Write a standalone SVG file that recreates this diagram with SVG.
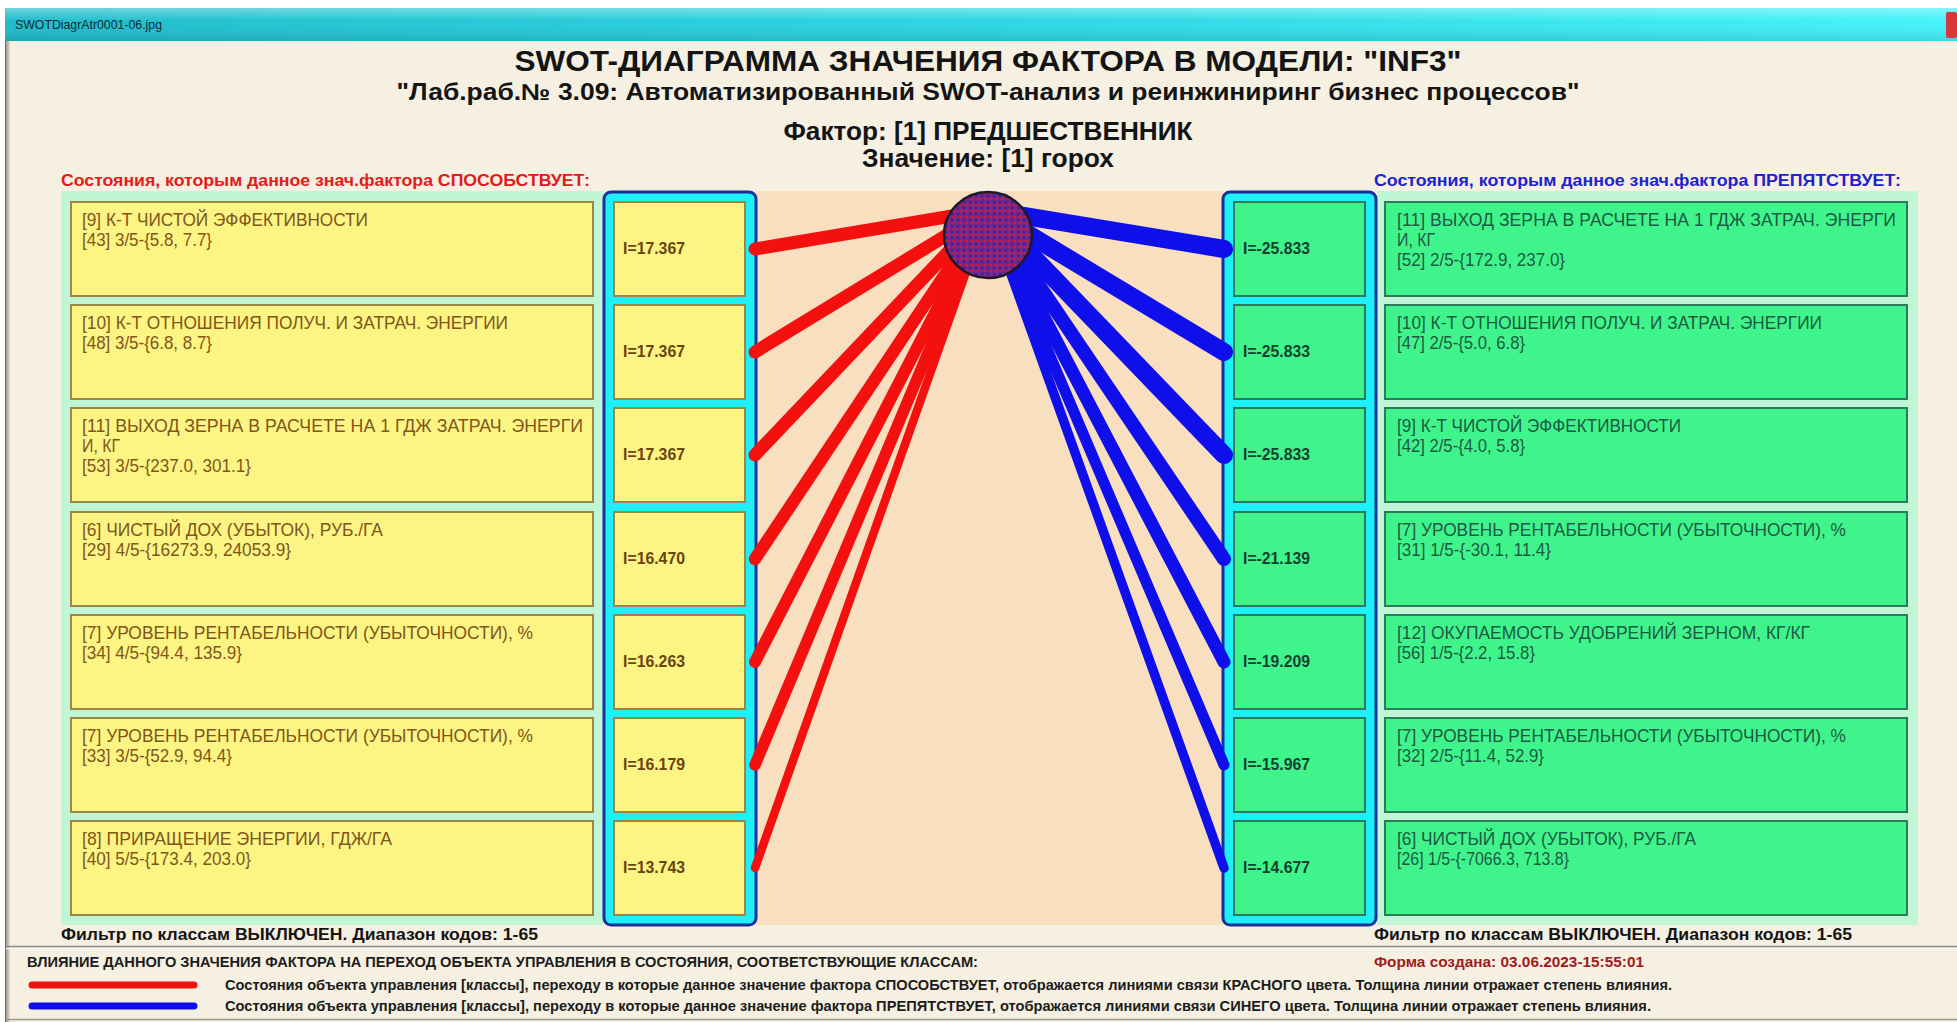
<svg xmlns="http://www.w3.org/2000/svg" width="1957" height="1022" viewBox="0 0 1957 1022">
  <defs>
    <linearGradient id="titleBar" x1="0" y1="0" x2="1" y2="0">
      <stop offset="0" stop-color="#1fbccb"/>
      <stop offset="0.5" stop-color="#2bd6e2"/>
      <stop offset="1" stop-color="#45f2fa"/>
    </linearGradient>
    <linearGradient id="titleShade" x1="0" y1="0" x2="0" y2="1">
      <stop offset="0" stop-color="#ffffff" stop-opacity="0.35"/>
      <stop offset="0.4" stop-color="#ffffff" stop-opacity="0"/>
      <stop offset="1" stop-color="#000000" stop-opacity="0.12"/>
    </linearGradient>
    <linearGradient id="frameShade" x1="0" y1="0" x2="1" y2="0">
      <stop offset="0" stop-color="#8a8a86"/>
      <stop offset="1" stop-color="#e6e1d2"/>
    </linearGradient>
    <pattern id="speckle" width="6" height="6" patternUnits="userSpaceOnUse">
      <rect width="6" height="6" fill="#72288a"/>
      <rect x="0" y="0" width="2" height="2" fill="#d01c3e"/>
      <rect x="3" y="3" width="2" height="2" fill="#2c1cb4"/>
      <rect x="4" y="0" width="1" height="2" fill="#b0245a"/>
      <rect x="1" y="4" width="2" height="1" fill="#a0246a"/>
    </pattern>
    <style>
      .ui { font-family: "Liberation Sans", Arial, sans-serif; }
      .head { font-weight: bold; fill: #141414; }
      .box-y { fill: #fcf483; stroke: #9c8646; stroke-width: 2; }
      .box-g { fill: #3ff58b; stroke: #2a7c5c; stroke-width: 2; }
      .lbl-y { font-size: 19px; fill: #80561a; }
      .lbl-g { font-size: 19px; fill: #1d5a44; }
      .ival { font-size: 16px; font-weight: bold; }
      .ival-y { fill: #6a4410; }
      .ival-g { fill: #153f30; }
      .col { fill: #1ef0f8; stroke: #17309a; stroke-width: 3; }
      .mint { fill: #c0f5d6; }
      .pro { stroke: #f51010; stroke-linecap: round; fill: none; }
      .con { stroke: #0f0fec; stroke-linecap: round; fill: none; }
      .foot { font-size: 16px; font-weight: bold; }
    </style>
  </defs>

  <!-- page and window frame -->
  <rect width="1957" height="1022" fill="#ffffff"/>
  <rect x="5" y="8" width="1952" height="1014" fill="#f5f0e1"/>
  <rect x="5" y="40" width="5" height="982" fill="url(#frameShade)"/>
  <line x1="5.5" y1="8" x2="5.5" y2="1022" stroke="#6f6f6c" stroke-width="1"/>

  <!-- title bar -->
  <rect x="5" y="8" width="1952" height="33" fill="url(#titleBar)"/>
  <rect x="5" y="8" width="1952" height="33" fill="url(#titleShade)"/>
  <rect x="1946" y="12" width="11" height="26" rx="2" fill="#d8383a"/>
  <text class="ui" x="15" y="29" font-size="12" fill="#0f2a34" textLength="147" lengthAdjust="spacingAndGlyphs">SWOTDiagrAtr0001-06.jpg</text>

  <!-- headings -->
  <text class="ui head" x="988" y="71" font-size="30" text-anchor="middle" textLength="947" lengthAdjust="spacingAndGlyphs">SWOT-ДИАГРАММА ЗНАЧЕНИЯ ФАКТОРА В МОДЕЛИ: "INF3"</text>
  <text class="ui head" x="988" y="100" font-size="23" text-anchor="middle" textLength="1183" lengthAdjust="spacingAndGlyphs">"Лаб.раб.№ 3.09: Автоматизированный SWOT-анализ и реинжиниринг бизнес процессов"</text>
  <text class="ui head" x="988" y="140" font-size="25" text-anchor="middle" textLength="409" lengthAdjust="spacingAndGlyphs">Фактор: [1] ПРЕДШЕСТВЕННИК</text>
  <text class="ui head" x="988" y="167" font-size="25" text-anchor="middle" textLength="252" lengthAdjust="spacingAndGlyphs">Значение: [1] горох</text>
  <text class="ui" x="61" y="186" font-size="16" font-weight="bold" fill="#e01c1c" textLength="529" lengthAdjust="spacingAndGlyphs">Состояния, которым данное знач.фактора СПОСОБСТВУЕТ:</text>
  <text class="ui" x="1374" y="186" font-size="16" font-weight="bold" fill="#2222cc" textLength="527" lengthAdjust="spacingAndGlyphs">Состояния, которым данное знач.фактора ПРЕПЯТСТВУЕТ:</text>

  <!-- panels -->
  <rect class="mint" x="61" y="191" width="542" height="734"/>
  <rect class="mint" x="1377" y="191" width="541" height="734"/>
  <rect x="756" y="191" width="467" height="734" fill="#f8dfc0"/>
  <rect class="col" x="604" y="192" width="152" height="733" rx="7"/>
  <rect class="col" x="1223" y="192" width="153" height="733" rx="7"/>

  <!-- connectors: all links meet at the factor node -->
  <g id="connectors">
    <line class="pro" x1="755" y1="249" x2="988" y2="210" stroke-width="13"/>
    <line class="pro" x1="755" y1="352" x2="988" y2="210" stroke-width="13"/>
    <line class="pro" x1="755" y1="455" x2="988" y2="210" stroke-width="13"/>
    <line class="pro" x1="755" y1="559" x2="988" y2="210" stroke-width="12.5"/>
    <line class="pro" x1="755" y1="662" x2="988" y2="210" stroke-width="12"/>
    <line class="pro" x1="755" y1="765" x2="988" y2="210" stroke-width="11.5"/>
    <line class="pro" x1="755" y1="868" x2="988" y2="210" stroke-width="8.5"/>
    <line class="con" x1="1224" y1="249" x2="988" y2="210" stroke-width="18"/>
    <line class="con" x1="1224" y1="352" x2="988" y2="210" stroke-width="18"/>
    <line class="con" x1="1224" y1="455" x2="988" y2="210" stroke-width="18"/>
    <line class="con" x1="1224" y1="559" x2="988" y2="210" stroke-width="14"/>
    <line class="con" x1="1224" y1="662" x2="988" y2="210" stroke-width="13"/>
    <line class="con" x1="1224" y1="765" x2="988" y2="210" stroke-width="11"/>
    <line class="con" x1="1224" y1="868" x2="988" y2="210" stroke-width="9.5"/>
  </g>

  <!-- factor value -->
  <g id="factor">
    <ellipse cx="988" cy="235" rx="44" ry="43" fill="url(#speckle)" stroke="#1a1a2a" stroke-width="2.5"/>
  </g>

  <!-- promoted states -->
  <g id="pro-1">
    <rect class="box-y" x="71" y="202" width="522" height="94"/>
    <text class="ui lbl-y" x="82" y="226" textLength="286" lengthAdjust="spacingAndGlyphs">[9] К-Т ЧИСТОЙ ЭФФЕКТИВНОСТИ</text>
    <text class="ui lbl-y" x="82" y="246" textLength="130" lengthAdjust="spacingAndGlyphs">[43] 3/5-{5.8, 7.7}</text>
    <rect class="box-y" x="614" y="202" width="131" height="94"/>
    <text class="ui ival ival-y" x="623" y="254" textLength="62" lengthAdjust="spacingAndGlyphs">I=17.367</text>
  </g>
  <g id="pro-2">
    <rect class="box-y" x="71" y="305" width="522" height="94"/>
    <text class="ui lbl-y" x="82" y="329" textLength="426" lengthAdjust="spacingAndGlyphs">[10] К-Т ОТНОШЕНИЯ ПОЛУЧ. И ЗАТРАЧ. ЭНЕРГИИ</text>
    <text class="ui lbl-y" x="82" y="349" textLength="130" lengthAdjust="spacingAndGlyphs">[48] 3/5-{6.8, 8.7}</text>
    <rect class="box-y" x="614" y="305" width="131" height="94"/>
    <text class="ui ival ival-y" x="623" y="357" textLength="62" lengthAdjust="spacingAndGlyphs">I=17.367</text>
  </g>
  <g id="pro-3">
    <rect class="box-y" x="71" y="408" width="522" height="94"/>
    <text class="ui lbl-y" x="82" y="432" textLength="501" lengthAdjust="spacingAndGlyphs">[11] ВЫХОД ЗЕРНА В РАСЧЕТЕ НА 1 ГДЖ ЗАТРАЧ. ЭНЕРГИ</text>
    <text class="ui lbl-y" x="82" y="452" textLength="38" lengthAdjust="spacingAndGlyphs">И, КГ</text>
    <text class="ui lbl-y" x="82" y="472" textLength="169" lengthAdjust="spacingAndGlyphs">[53] 3/5-{237.0, 301.1}</text>
    <rect class="box-y" x="614" y="408" width="131" height="94"/>
    <text class="ui ival ival-y" x="623" y="460" textLength="62" lengthAdjust="spacingAndGlyphs">I=17.367</text>
  </g>
  <g id="pro-4">
    <rect class="box-y" x="71" y="512" width="522" height="94"/>
    <text class="ui lbl-y" x="82" y="536" textLength="301" lengthAdjust="spacingAndGlyphs">[6] ЧИСТЫЙ ДОХ (УБЫТОК), РУБ./ГА</text>
    <text class="ui lbl-y" x="82" y="556" textLength="209" lengthAdjust="spacingAndGlyphs">[29] 4/5-{16273.9, 24053.9}</text>
    <rect class="box-y" x="614" y="512" width="131" height="94"/>
    <text class="ui ival ival-y" x="623" y="564" textLength="62" lengthAdjust="spacingAndGlyphs">I=16.470</text>
  </g>
  <g id="pro-5">
    <rect class="box-y" x="71" y="615" width="522" height="94"/>
    <text class="ui lbl-y" x="82" y="639" textLength="451" lengthAdjust="spacingAndGlyphs">[7] УРОВЕНЬ РЕНТАБЕЛЬНОСТИ (УБЫТОЧНОСТИ), %</text>
    <text class="ui lbl-y" x="82" y="659" textLength="160" lengthAdjust="spacingAndGlyphs">[34] 4/5-{94.4, 135.9}</text>
    <rect class="box-y" x="614" y="615" width="131" height="94"/>
    <text class="ui ival ival-y" x="623" y="667" textLength="62" lengthAdjust="spacingAndGlyphs">I=16.263</text>
  </g>
  <g id="pro-6">
    <rect class="box-y" x="71" y="718" width="522" height="94"/>
    <text class="ui lbl-y" x="82" y="742" textLength="451" lengthAdjust="spacingAndGlyphs">[7] УРОВЕНЬ РЕНТАБЕЛЬНОСТИ (УБЫТОЧНОСТИ), %</text>
    <text class="ui lbl-y" x="82" y="762" textLength="150" lengthAdjust="spacingAndGlyphs">[33] 3/5-{52.9, 94.4}</text>
    <rect class="box-y" x="614" y="718" width="131" height="94"/>
    <text class="ui ival ival-y" x="623" y="770" textLength="62" lengthAdjust="spacingAndGlyphs">I=16.179</text>
  </g>
  <g id="pro-7">
    <rect class="box-y" x="71" y="821" width="522" height="94"/>
    <text class="ui lbl-y" x="82" y="845" textLength="310" lengthAdjust="spacingAndGlyphs">[8] ПРИРАЩЕНИЕ ЭНЕРГИИ, ГДЖ/ГА</text>
    <text class="ui lbl-y" x="82" y="865" textLength="169" lengthAdjust="spacingAndGlyphs">[40] 5/5-{173.4, 203.0}</text>
    <rect class="box-y" x="614" y="821" width="131" height="94"/>
    <text class="ui ival ival-y" x="623" y="873" textLength="62" lengthAdjust="spacingAndGlyphs">I=13.743</text>
  </g>

  <!-- hindered states -->
  <g id="con-1">
    <rect class="box-g" x="1234" y="202" width="131" height="94"/>
    <text class="ui ival ival-g" x="1243" y="254" textLength="67" lengthAdjust="spacingAndGlyphs">I=-25.833</text>
    <rect class="box-g" x="1385" y="202" width="522" height="94"/>
    <text class="ui lbl-g" x="1397" y="226" textLength="499" lengthAdjust="spacingAndGlyphs">[11] ВЫХОД ЗЕРНА В РАСЧЕТЕ НА 1 ГДЖ ЗАТРАЧ. ЭНЕРГИ</text>
    <text class="ui lbl-g" x="1397" y="246" textLength="38" lengthAdjust="spacingAndGlyphs">И, КГ</text>
    <text class="ui lbl-g" x="1397" y="266" textLength="168" lengthAdjust="spacingAndGlyphs">[52] 2/5-{172.9, 237.0}</text>
  </g>
  <g id="con-2">
    <rect class="box-g" x="1234" y="305" width="131" height="94"/>
    <text class="ui ival ival-g" x="1243" y="357" textLength="67" lengthAdjust="spacingAndGlyphs">I=-25.833</text>
    <rect class="box-g" x="1385" y="305" width="522" height="94"/>
    <text class="ui lbl-g" x="1397" y="329" textLength="425" lengthAdjust="spacingAndGlyphs">[10] К-Т ОТНОШЕНИЯ ПОЛУЧ. И ЗАТРАЧ. ЭНЕРГИИ</text>
    <text class="ui lbl-g" x="1397" y="349" textLength="128" lengthAdjust="spacingAndGlyphs">[47] 2/5-{5.0, 6.8}</text>
  </g>
  <g id="con-3">
    <rect class="box-g" x="1234" y="408" width="131" height="94"/>
    <text class="ui ival ival-g" x="1243" y="460" textLength="67" lengthAdjust="spacingAndGlyphs">I=-25.833</text>
    <rect class="box-g" x="1385" y="408" width="522" height="94"/>
    <text class="ui lbl-g" x="1397" y="432" textLength="284" lengthAdjust="spacingAndGlyphs">[9] К-Т ЧИСТОЙ ЭФФЕКТИВНОСТИ</text>
    <text class="ui lbl-g" x="1397" y="452" textLength="128" lengthAdjust="spacingAndGlyphs">[42] 2/5-{4.0, 5.8}</text>
  </g>
  <g id="con-4">
    <rect class="box-g" x="1234" y="512" width="131" height="94"/>
    <text class="ui ival ival-g" x="1243" y="564" textLength="67" lengthAdjust="spacingAndGlyphs">I=-21.139</text>
    <rect class="box-g" x="1385" y="512" width="522" height="94"/>
    <text class="ui lbl-g" x="1397" y="536" textLength="449" lengthAdjust="spacingAndGlyphs">[7] УРОВЕНЬ РЕНТАБЕЛЬНОСТИ (УБЫТОЧНОСТИ), %</text>
    <text class="ui lbl-g" x="1397" y="556" textLength="154" lengthAdjust="spacingAndGlyphs">[31] 1/5-{-30.1, 11.4}</text>
  </g>
  <g id="con-5">
    <rect class="box-g" x="1234" y="615" width="131" height="94"/>
    <text class="ui ival ival-g" x="1243" y="667" textLength="67" lengthAdjust="spacingAndGlyphs">I=-19.209</text>
    <rect class="box-g" x="1385" y="615" width="522" height="94"/>
    <text class="ui lbl-g" x="1397" y="639" textLength="413" lengthAdjust="spacingAndGlyphs">[12] ОКУПАЕМОСТЬ УДОБРЕНИЙ ЗЕРНОМ, КГ/КГ</text>
    <text class="ui lbl-g" x="1397" y="659" textLength="138" lengthAdjust="spacingAndGlyphs">[56] 1/5-{2.2, 15.8}</text>
  </g>
  <g id="con-6">
    <rect class="box-g" x="1234" y="718" width="131" height="94"/>
    <text class="ui ival ival-g" x="1243" y="770" textLength="67" lengthAdjust="spacingAndGlyphs">I=-15.967</text>
    <rect class="box-g" x="1385" y="718" width="522" height="94"/>
    <text class="ui lbl-g" x="1397" y="742" textLength="449" lengthAdjust="spacingAndGlyphs">[7] УРОВЕНЬ РЕНТАБЕЛЬНОСТИ (УБЫТОЧНОСТИ), %</text>
    <text class="ui lbl-g" x="1397" y="762" textLength="147" lengthAdjust="spacingAndGlyphs">[32] 2/5-{11.4, 52.9}</text>
  </g>
  <g id="con-7">
    <rect class="box-g" x="1234" y="821" width="131" height="94"/>
    <text class="ui ival ival-g" x="1243" y="873" textLength="67" lengthAdjust="spacingAndGlyphs">I=-14.677</text>
    <rect class="box-g" x="1385" y="821" width="522" height="94"/>
    <text class="ui lbl-g" x="1397" y="845" textLength="299" lengthAdjust="spacingAndGlyphs">[6] ЧИСТЫЙ ДОХ (УБЫТОК), РУБ./ГА</text>
    <text class="ui lbl-g" x="1397" y="865" textLength="172" lengthAdjust="spacingAndGlyphs">[26] 1/5-{-7066.3, 713.8}</text>
  </g>

  <!-- filter notes -->
  <text class="ui foot" x="61" y="940" fill="#141414" textLength="477" lengthAdjust="spacingAndGlyphs">Фильтр по классам ВЫКЛЮЧЕН. Диапазон кодов: 1-65</text>
  <text class="ui foot" x="1374" y="940" fill="#141414" textLength="478" lengthAdjust="spacingAndGlyphs">Фильтр по классам ВЫКЛЮЧЕН. Диапазон кодов: 1-65</text>

  <!-- legend -->
  <line x1="6" y1="946.5" x2="1957" y2="946.5" stroke="#8c8a84" stroke-width="1.5"/>
  <line x1="6" y1="948.5" x2="1957" y2="948.5" stroke="#ffffff" stroke-width="1"/>
  <g id="legend">
    <text class="ui" x="27" y="967" font-size="15" font-weight="bold" fill="#1c1c1c" textLength="951" lengthAdjust="spacingAndGlyphs">ВЛИЯНИЕ ДАННОГО ЗНАЧЕНИЯ ФАКТОРА НА ПЕРЕХОД ОБЪЕКТА УПРАВЛЕНИЯ В СОСТОЯНИЯ, СООТВЕТСТВУЮЩИЕ КЛАССАМ:</text>
    <text class="ui" x="1374" y="967" font-size="15" font-weight="bold" fill="#a01c1c" textLength="270" lengthAdjust="spacingAndGlyphs">Форма создана: 03.06.2023-15:55:01</text>
    <line class="pro" x1="32" y1="985" x2="194" y2="985" stroke-width="7"/>
    <line class="con" x1="32" y1="1006" x2="194" y2="1006" stroke-width="7"/>
    <text class="ui" x="225" y="990" font-size="14" font-weight="bold" fill="#1c1c1c" textLength="1447" lengthAdjust="spacingAndGlyphs">Состояния объекта управления [классы], переходу в которые данное значение фактора СПОСОБСТВУЕТ, отображается линиями связи КРАСНОГО цвета. Толщина линии отражает степень влияния.</text>
    <text class="ui" x="225" y="1011" font-size="14" font-weight="bold" fill="#1c1c1c" textLength="1426" lengthAdjust="spacingAndGlyphs">Состояния объекта управления [классы], переходу в которые данное значение фактора ПРЕПЯТСТВУЕТ, отображается линиями связи СИНЕГО цвета. Толщина линии отражает степень влияния.</text>
  </g>
  <line x1="6" y1="1019.5" x2="1957" y2="1019.5" stroke="#9a978e" stroke-width="1.5"/>
</svg>
